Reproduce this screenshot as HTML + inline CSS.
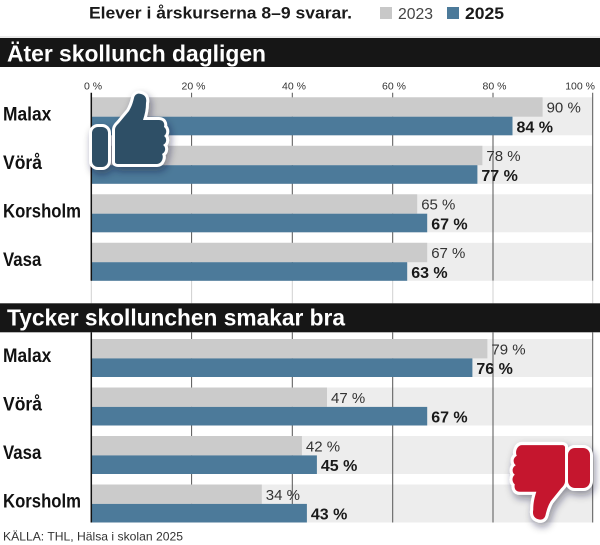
<!DOCTYPE html>
<html>
<head>
<meta charset="utf-8">
<style>
html,body{margin:0;padding:0;background:#fff;}
svg{display:block;}
</style>
</head>
<body>
<svg width="600" height="545" viewBox="0 0 600 545" xmlns="http://www.w3.org/2000/svg" font-family="'Liberation Sans', Arial, sans-serif">
<defs>
  <filter id="sh" x="-40%" y="-40%" width="180%" height="180%">
    <feDropShadow dx="2" dy="4" stdDeviation="4" flood-color="#1a1a30" flood-opacity="0.45"/>
  </filter>
  <path id="hand" d="M23 68 L23 36 C23 33 25 31 27 29 L37 17 C40 12 41 8 42 4 C43 0 46 -1 49 0 C53 1 55 4 54 9 C54 15 53 20 51 26 L67 26 C71 26 73 29 72 33 C75 35 75 40 72 42 C75 44 75 49 71 51 C74 53 74 58 70 60 C72 63 70 70 65 70 L26 70 C24 70 23 69 23 68 Z"/>
</defs>

<rect x="0" y="0" width="600" height="545" fill="#fff"/>

<!-- Header -->
<text x="89" y="18.5" font-size="17" font-weight="bold" fill="#1a1a1a" textLength="263" lengthAdjust="spacingAndGlyphs">Elever i årskurserna 8–9 svarar.</text>
<rect x="380" y="7" width="12" height="12" fill="#c8c8c8"/>
<text x="398" y="19" font-size="16" fill="#444" textLength="35" lengthAdjust="spacingAndGlyphs">2023</text>
<rect x="447" y="7" width="12" height="12" fill="#4c7a9a"/>
<text x="465" y="19" font-size="17" font-weight="bold" fill="#1a1a1a" textLength="39" lengthAdjust="spacingAndGlyphs">2025</text>

<line x1="0" y1="37" x2="600" y2="37" stroke="#d4d4d4" stroke-width="1"/>
<rect x="0" y="38" width="600" height="29" fill="#161616"/>
<text x="7" y="61.7" font-size="23" font-weight="bold" fill="#fff" textLength="259" lengthAdjust="spacingAndGlyphs">Äter skollunch dagligen</text>

<!-- Tick labels -->
<g font-size="10.5" fill="#333" text-anchor="middle">
  <text x="93" y="89.3">0 %</text>
  <text x="193.5" y="89.3">20 %</text>
  <text x="294" y="89.3">40 %</text>
  <text x="394" y="89.3">60 %</text>
  <text x="494.5" y="89.3">80 %</text>
  <text x="595" y="89.3" text-anchor="end">100 %</text>
</g>

<!-- Section 1 bands -->
<g fill="#ededed">
  <rect x="91.3" y="97.3" width="501.4" height="38"/>
  <rect x="91.3" y="145.8" width="501.4" height="38"/>
  <rect x="91.3" y="194.3" width="501.4" height="38"/>
  <rect x="91.3" y="242.8" width="501.4" height="38"/>
</g>
<g stroke="#555" stroke-width="1">
  <line x1="191.6" y1="92.7" x2="191.6" y2="280.8"/>
  <line x1="292.3" y1="92.7" x2="292.3" y2="280.8"/>
  <line x1="392.7" y1="92.7" x2="392.7" y2="280.8"/>
  <line x1="493" y1="92.7" x2="493" y2="280.8"/>
  <line x1="592.7" y1="92.7" x2="592.7" y2="280.8"/>
</g>
<g stroke="#d0d0d0" stroke-width="1">
  <line x1="91.3" y1="280.8" x2="91.3" y2="303.3"/>
  <line x1="191.6" y1="280.8" x2="191.6" y2="303.3"/>
  <line x1="292.3" y1="280.8" x2="292.3" y2="303.3"/>
  <line x1="392.7" y1="280.8" x2="392.7" y2="303.3"/>
  <line x1="493" y1="280.8" x2="493" y2="303.3"/>
  <line x1="592.7" y1="280.8" x2="592.7" y2="303.3"/>
</g>

<!-- Section 1 bars -->
<g fill="#cbcbcb">
  <rect x="91.3" y="97.3" width="451.3" height="19.4"/>
  <rect x="91.3" y="145.8" width="391.1" height="19.4"/>
  <rect x="91.3" y="194.3" width="325.9" height="19.4"/>
  <rect x="91.3" y="242.8" width="335.9" height="19.4"/>
</g>
<g fill="#4c7a9a">
  <rect x="91.3" y="116.7" width="421.2" height="18.6"/>
  <rect x="91.3" y="165.2" width="386.1" height="18.6"/>
  <rect x="91.3" y="213.7" width="335.9" height="18.6"/>
  <rect x="91.3" y="262.2" width="315.9" height="18.6"/>
</g>
<line x1="91.3" y1="92.7" x2="91.3" y2="280.8" stroke="#111" stroke-width="1.5"/>

<g font-size="15" fill="#333">
  <text x="546.6" y="112.7">90 %</text>
  <text x="486.4" y="161.2">78 %</text>
  <text x="421.2" y="209.7">65 %</text>
  <text x="431.2" y="258.2">67 %</text>
</g>
<g font-size="16" font-weight="bold" fill="#1a1a1a">
  <text x="516.5" y="132.3">84 %</text>
  <text x="481.4" y="180.8">77 %</text>
  <text x="431.2" y="229.3">67 %</text>
  <text x="411.2" y="277.8">63 %</text>
</g>
<g font-size="19" font-weight="bold" fill="#111">
  <text x="3" y="120.3" textLength="48.3" lengthAdjust="spacingAndGlyphs">Malax</text>
  <text x="3" y="168.8" textLength="39" lengthAdjust="spacingAndGlyphs">Vörå</text>
  <text x="3" y="217.3" textLength="78" lengthAdjust="spacingAndGlyphs">Korsholm</text>
  <text x="3" y="265.8" textLength="38.3" lengthAdjust="spacingAndGlyphs">Vasa</text>
</g>

<!-- Section 2 header -->
<rect x="0" y="303.3" width="600" height="29" fill="#161616"/>
<text x="7" y="325.5" font-size="23" font-weight="bold" fill="#fff" textLength="338" lengthAdjust="spacingAndGlyphs">Tycker skollunchen smakar bra</text>

<g fill="#ededed">
  <rect x="91.3" y="339" width="501.4" height="38"/>
  <rect x="91.3" y="387.5" width="501.4" height="38"/>
  <rect x="91.3" y="436" width="501.4" height="38"/>
  <rect x="91.3" y="484.5" width="501.4" height="38"/>
</g>
<g stroke="#555" stroke-width="1">
  <line x1="191.6" y1="332.3" x2="191.6" y2="522.5"/>
  <line x1="292.3" y1="332.3" x2="292.3" y2="522.5"/>
  <line x1="392.7" y1="332.3" x2="392.7" y2="522.5"/>
  <line x1="493" y1="332.3" x2="493" y2="522.5"/>
  <line x1="592.7" y1="332.3" x2="592.7" y2="522.5"/>
</g>
<g fill="#cbcbcb">
  <rect x="91.3" y="339" width="396.1" height="19.4"/>
  <rect x="91.3" y="387.5" width="235.7" height="19.4"/>
  <rect x="91.3" y="436" width="210.6" height="19.4"/>
  <rect x="91.3" y="484.5" width="170.5" height="19.4"/>
</g>
<g fill="#4c7a9a">
  <rect x="91.3" y="358.4" width="381.1" height="18.6"/>
  <rect x="91.3" y="406.9" width="335.9" height="18.6"/>
  <rect x="91.3" y="455.4" width="225.6" height="18.6"/>
  <rect x="91.3" y="503.9" width="215.6" height="18.6"/>
</g>
<line x1="91.3" y1="332.3" x2="91.3" y2="522.5" stroke="#111" stroke-width="1.5"/>

<g font-size="15" fill="#333">
  <text x="491.4" y="354.4">79 %</text>
  <text x="331" y="402.9">47 %</text>
  <text x="305.9" y="451.4">42 %</text>
  <text x="265.8" y="499.9">34 %</text>
</g>
<g font-size="16" font-weight="bold" fill="#1a1a1a">
  <text x="476.4" y="374">76 %</text>
  <text x="431.2" y="422.5">67 %</text>
  <text x="320.9" y="471">45 %</text>
  <text x="310.9" y="519.5">43 %</text>
</g>
<g font-size="19" font-weight="bold" fill="#111">
  <text x="3" y="362" textLength="48.3" lengthAdjust="spacingAndGlyphs">Malax</text>
  <text x="3" y="410.5" textLength="39" lengthAdjust="spacingAndGlyphs">Vörå</text>
  <text x="3" y="459" textLength="38.3" lengthAdjust="spacingAndGlyphs">Vasa</text>
  <text x="3" y="507.5" textLength="78" lengthAdjust="spacingAndGlyphs">Korsholm</text>
</g>

<text x="3" y="540.5" font-size="12" fill="#333" textLength="180" lengthAdjust="spacingAndGlyphs">KÄLLA: THL, Hälsa i skolan 2025</text>

<!-- Thumbs up -->
<g filter="url(#sh)">
  <g stroke="#fff" stroke-width="6" stroke-linejoin="round" fill="#fff">
    <rect x="92" y="127" width="16" height="40" rx="6"/>
    <use href="#hand" transform="translate(92,94)"/>
  </g>
  <g fill="#2f4f66">
    <rect x="92" y="127" width="16" height="40" rx="6"/>
    <use href="#hand" transform="translate(92,94)"/>
  </g>
</g>

<!-- Thumbs down -->
<g filter="url(#sh)">
  <g stroke="#fff" stroke-width="6" stroke-linejoin="round" fill="#fff">
    <rect x="568" y="448" width="22" height="40" rx="7"/>
    <use href="#hand" transform="translate(588.6,519.3) scale(-1.025,-1.06)"/>
  </g>
  <g fill="#c5142f">
    <rect x="568" y="448" width="22" height="40" rx="7"/>
    <use href="#hand" transform="translate(588.6,519.3) scale(-1.025,-1.06)"/>
  </g>
</g>
</svg>
</body>
</html>
